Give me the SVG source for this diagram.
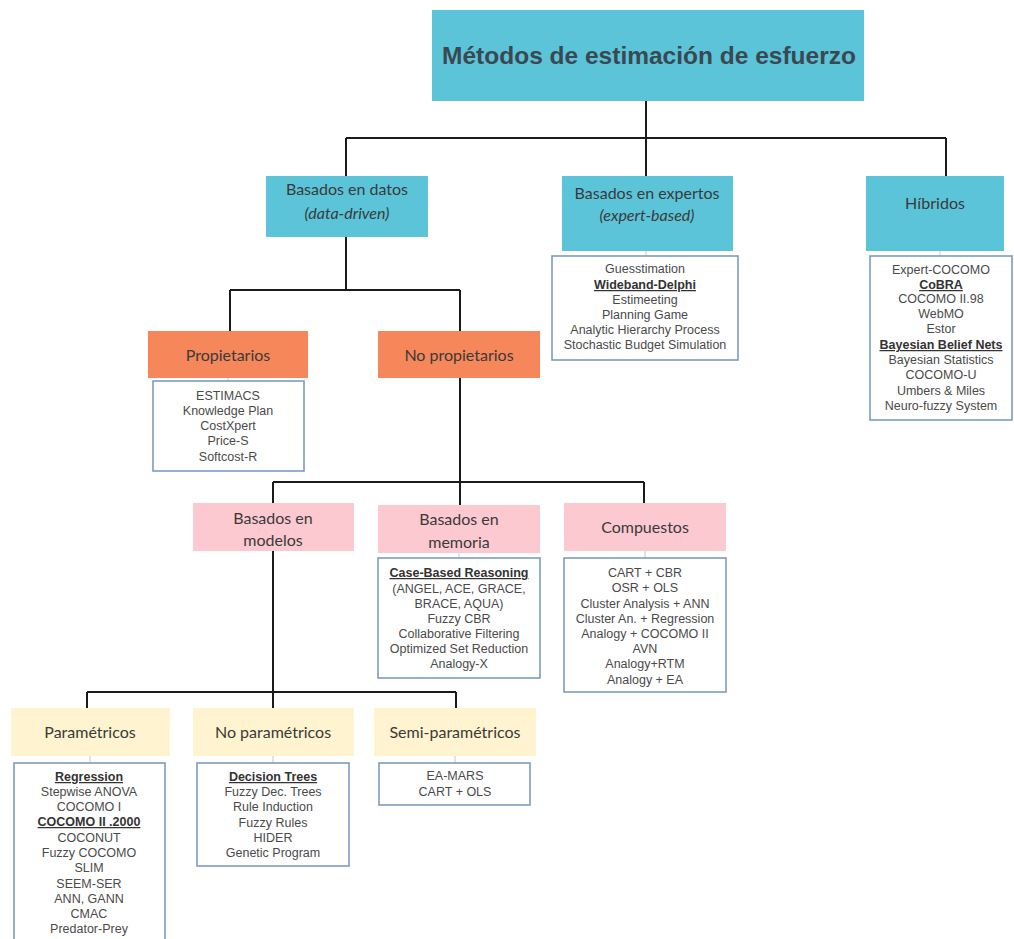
<svg xmlns="http://www.w3.org/2000/svg" width="1014" height="939" viewBox="0 0 1014 939">
<style>
.bg{fill:#ffffff}
.teal{fill:#5bc4d8}
.orange{fill:#f5875a}
.pink{fill:#fcc9d0}
.yellow{fill:#fff4cf}
.list{fill:#ffffff;stroke:#7d9cc4;stroke-width:1.6}
.conn{stroke:#1a1a1a;stroke-width:2;fill:none}
.tick{stroke:#c8c8c8;stroke-width:1;fill:none}
.title{font-family:"Liberation Sans",Arial,sans-serif;font-weight:bold;font-size:24.5px;fill:#3a4852;text-anchor:middle}
.hd{font-family:Lato,"Open Sans",sans-serif;font-size:16px;fill:#3a3a3a;text-anchor:middle}
.hdi{font-family:Lato,"Open Sans",sans-serif;font-size:16px;font-style:italic;fill:#3a3a3a;text-anchor:middle}
.li{font-family:"Liberation Sans",Arial,sans-serif;font-size:12.5px;fill:#4a4a4a;text-anchor:middle}
.lb{font-family:"Liberation Sans",Arial,sans-serif;font-size:12.5px;font-weight:bold;fill:#333;text-anchor:middle;text-decoration:underline}
</style>
<rect class="bg" x="0" y="0" width="1014" height="939"/>
<g id="connectors">
<path class="conn" d="M646 101V138M346 138H946M346 138V176M646 138V176M946 138V176"/>
<path class="conn" d="M346 237V290M230 290H460M230 290V331M460 290V331"/>
<path class="conn" d="M460 378V482M273 482H644M273 482V503M460 482V505M644 482V503"/>
<path class="conn" d="M273 551V692M87 692H456M87 692V708M273 692V708M456 692V708"/>
<path class="tick" d="M646 251V257M940 251V257M228 378V382M459 553V559M645 551V559M90 756V764M273 756V764M455 756V764"/>
</g>
<g id="title"><rect class="teal" x="432" y="10" width="432" height="91"/><text class="title" x="649" y="64">Métodos de estimación de esfuerzo</text></g>
<g id="data-driven"><rect class="teal" x="266" y="176" width="162" height="61"/><text class="hd" x="347" y="195">Basados en datos</text><text class="hdi" x="347" y="219">(data-driven)</text></g>
<g id="expert-based"><rect class="teal" x="562" y="176" width="171" height="75"/><text class="hd" x="647" y="199">Basados en expertos</text><text class="hdi" x="647" y="221">(expert-based)</text></g>
<g id="hibridos"><rect class="teal" x="866" y="176" width="138" height="75"/><text class="hd" x="935" y="209">Híbridos</text></g>
<g id="expert-list"><rect class="list" x="552" y="256" width="186" height="104"/>
<text class="li" x="645" y="273">Guesstimation</text><text class="lb" x="645" y="289">Wideband-Delphi</text><text class="li" x="645" y="304">Estimeeting</text><text class="li" x="645" y="319">Planning Game</text><text class="li" x="645" y="334">Analytic Hierarchy Process</text><text class="li" x="645" y="349">Stochastic Budget Simulation</text></g>
<g id="hybrid-list"><rect class="list" x="870" y="256" width="142" height="164"/>
<text class="li" x="941" y="274">Expert-COCOMO</text><text class="lb" x="941" y="289">CoBRA</text><text class="li" x="941" y="303">COCOMO II.98</text><text class="li" x="941" y="318">WebMO</text><text class="li" x="941" y="333">Estor</text><text class="lb" x="941" y="349">Bayesian Belief Nets</text><text class="li" x="941" y="364">Bayesian Statistics</text><text class="li" x="941" y="379">COCOMO-U</text><text class="li" x="941" y="395">Umbers &amp; Miles</text><text class="li" x="941" y="410">Neuro-fuzzy System</text></g>
<g id="propietarios"><rect class="orange" x="148" y="331" width="160" height="47"/><text class="hd" x="228" y="361">Propietarios</text></g>
<g id="no-propietarios"><rect class="orange" x="378" y="331" width="162" height="47"/><text class="hd" x="459" y="361">No propietarios</text></g>
<g id="propietarios-list"><rect class="list" x="153" y="381" width="151" height="90"/>
<text class="li" x="228" y="400">ESTIMACS</text><text class="li" x="228" y="415">Knowledge Plan</text><text class="li" x="228" y="430">CostXpert</text><text class="li" x="228" y="445">Price-S</text><text class="li" x="228" y="461">Softcost-R</text></g>
<g id="modelos"><rect class="pink" x="193" y="503" width="161" height="48"/><text class="hd" x="273" y="524">Basados en</text><text class="hd" x="273" y="546">modelos</text></g>
<g id="memoria"><rect class="pink" x="378" y="505" width="162" height="48"/><text class="hd" x="459" y="525">Basados en</text><text class="hd" x="459" y="548">memoria</text></g>
<g id="compuestos"><rect class="pink" x="564" y="503" width="162" height="48"/><text class="hd" x="645" y="533">Compuestos</text></g>
<g id="memoria-list"><rect class="list" x="378" y="558" width="162" height="120"/>
<text class="lb" x="459" y="577">Case-Based Reasoning</text><text class="li" x="459" y="593">(ANGEL, ACE, GRACE,</text><text class="li" x="459" y="608">BRACE, AQUA)</text><text class="li" x="459" y="623">Fuzzy CBR</text><text class="li" x="459" y="638">Collaborative Filtering</text><text class="li" x="459" y="653">Optimized Set Reduction</text><text class="li" x="459" y="668">Analogy-X</text></g>
<g id="compuestos-list"><rect class="list" x="564" y="558" width="162" height="134"/>
<text class="li" x="645" y="577">CART + CBR</text><text class="li" x="645" y="592">OSR + OLS</text><text class="li" x="645" y="608">Cluster Analysis + ANN</text><text class="li" x="645" y="623">Cluster An. + Regression</text><text class="li" x="645" y="638">Analogy + COCOMO II</text><text class="li" x="645" y="653">AVN</text><text class="li" x="645" y="668">Analogy+RTM</text><text class="li" x="645" y="684">Analogy + EA</text></g>
<g id="parametricos"><rect class="yellow" x="11" y="708" width="159" height="48"/><text class="hd" x="90" y="738">Paramétricos</text></g>
<g id="no-parametricos"><rect class="yellow" x="193" y="708" width="161" height="48"/><text class="hd" x="273" y="738">No paramétricos</text></g>
<g id="semi-parametricos"><rect class="yellow" x="374" y="708" width="162" height="48"/><text class="hd" x="455" y="738">Semi-paramétricos</text></g>
<g id="parametricos-list"><rect class="list" x="14" y="763" width="151" height="190"/>
<text class="lb" x="89" y="781">Regression</text><text class="li" x="89" y="796">Stepwise ANOVA</text><text class="li" x="89" y="811">COCOMO I</text><text class="lb" x="89" y="826">COCOMO II .2000</text><text class="li" x="89" y="842">COCONUT</text><text class="li" x="89" y="857">Fuzzy COCOMO</text><text class="li" x="89" y="872">SLIM</text><text class="li" x="89" y="888">SEEM-SER</text><text class="li" x="89" y="903">ANN, GANN</text><text class="li" x="89" y="918">CMAC</text><text class="li" x="89" y="933">Predator-Prey</text></g>
<g id="no-parametricos-list"><rect class="list" x="197" y="763" width="152" height="103"/>
<text class="lb" x="273" y="781">Decision Trees</text><text class="li" x="273" y="796">Fuzzy Dec. Trees</text><text class="li" x="273" y="811">Rule Induction</text><text class="li" x="273" y="827">Fuzzy Rules</text><text class="li" x="273" y="842">HIDER</text><text class="li" x="273" y="857">Genetic Program</text></g>
<g id="semi-parametricos-list"><rect class="list" x="379" y="763" width="151" height="42"/>
<text class="li" x="455" y="780">EA-MARS</text><text class="li" x="455" y="796">CART + OLS</text></g>
</svg>
